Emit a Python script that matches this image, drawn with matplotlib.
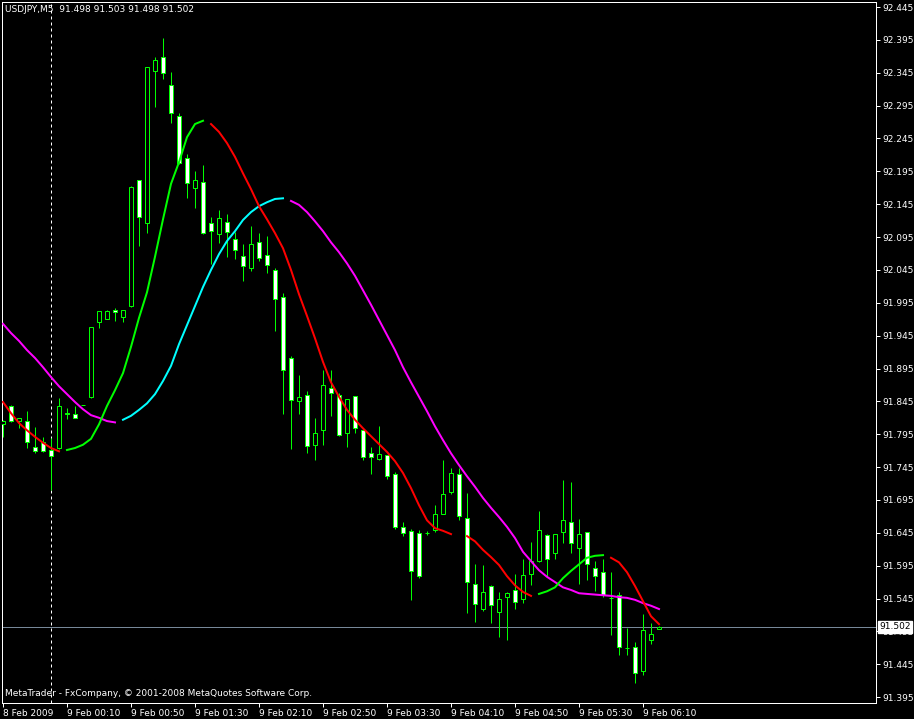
import matplotlib
matplotlib.use("Agg")
import matplotlib.pyplot as plt
import numpy as np

# ---------------- data ----------------
symbol_title = "USDJPY,M5  91.498 91.503 91.498 91.502"
copyright_text = "MetaTrader - FxCompany, \u00a9 2001-2008 MetaQuotes Software Corp."

opens = [91.810, 91.838, 91.815, 91.815, 91.775, 91.783, 91.771, 91.774, 91.827, 91.826,
         91.839, 91.852, 91.966, 91.970, 91.984, 91.973, 91.990, 92.182, 92.116, 92.348,
         92.369, 92.326, 92.279, 92.215, 92.170, 92.179, 92.116, 92.100, 92.118, 92.092,
         92.066, 92.048, 92.087, 92.068, 92.045, 92.004, 91.911, 91.845, 91.855, 91.779,
         91.801, 91.865, 91.855, 91.797, 91.853, 91.801, 91.766, 91.757, 91.763, 91.734,
         91.654, 91.648, 91.645, 91.645, 91.649, 91.674, 91.707, 91.734, 91.667, 91.567,
         91.529, 91.564, 91.524, 91.547, 91.558, 91.544, 91.582, 91.602, 91.642, 91.614,
         91.646, 91.661, 91.622, 91.646, 91.591, 91.585, 91.546, 91.550, 91.470, 91.471,
         91.435, 91.482, 91.498]
highs = [91.817, 91.839, 91.820, 91.830, 91.806, 91.791, 91.789, 91.850, 91.835, 91.838,
         91.840, 91.958, 91.982, 91.984, 91.987, 91.984, 92.173, 92.182, 92.354, 92.369,
         92.398, 92.346, 92.284, 92.221, 92.195, 92.205, 92.125, 92.136, 92.130, 92.103,
         92.084, 92.112, 92.101, 92.097, 92.048, 92.010, 91.914, 91.885, 91.861, 91.820,
         91.893, 91.893, 91.858, 91.849, 91.853, 91.801, 91.775, 91.807, 91.763, 91.737,
         91.661, 91.651, 91.649, 91.648, 91.687, 91.756, 91.744, 91.744, 91.705, 91.597,
         91.596, 91.565, 91.555, 91.555, 91.582, 91.605, 91.631, 91.678, 91.643, 91.643,
         91.725, 91.722, 91.666, 91.646, 91.602, 91.605, 91.585, 91.555, 91.500, 91.479,
         91.521, 91.508, 91.503]
lows = [91.791, 91.813, 91.804, 91.774, 91.766, 91.768, 91.710, 91.772, 91.818, 91.820,
        91.839, 91.850, 91.957, 91.970, 91.967, 91.966, 91.988, 92.081, 92.101, 92.293,
        92.336, 92.269, 92.206, 92.154, 92.139, 92.100, 92.054, 92.086, 92.065, 92.062,
        92.028, 92.043, 92.059, 92.040, 91.952, 91.826, 91.772, 91.826, 91.766, 91.756,
        91.779, 91.823, 91.792, 91.775, 91.797, 91.756, 91.734, 91.756, 91.727, 91.651,
        91.640, 91.543, 91.576, 91.642, 91.646, 91.674, 91.704, 91.664, 91.523, 91.509,
        91.526, 91.508, 91.486, 91.482, 91.529, 91.538, 91.565, 91.600, 91.579, 91.605,
        91.629, 91.614, 91.567, 91.573, 91.556, 91.547, 91.489, 91.459, 91.459, 91.416,
        91.428, 91.476, 91.498]
closes = [91.815, 91.815, 91.820, 91.783, 91.769, 91.769, 91.762, 91.838, 91.826, 91.820,
          91.839, 91.958, 91.982, 91.982, 91.981, 91.984, 92.171, 92.125, 92.354, 92.364,
          92.345, 92.284, 92.208, 92.177, 92.182, 92.101, 92.104, 92.124, 92.103, 92.075,
          92.051, 92.084, 92.063, 92.052, 92.001, 91.893, 91.847, 91.852, 91.777, 91.797,
          91.870, 91.858, 91.794, 91.849, 91.804, 91.760, 91.760, 91.765, 91.731, 91.654,
          91.645, 91.587, 91.579, 91.645, 91.674, 91.704, 91.736, 91.671, 91.570, 91.537,
          91.555, 91.535, 91.544, 91.553, 91.540, 91.581, 91.602, 91.649, 91.605, 91.643,
          91.664, 91.629, 91.643, 91.597, 91.579, 91.550, 91.546, 91.471, 91.470, 91.431,
          91.497, 91.491, 91.502]

fast_ma = [91.844, 91.827, 91.812, 91.801, 91.791, 91.782, 91.774, 91.769, 91.771, 91.774,
           91.779, 91.788, 91.810, 91.838, 91.862, 91.888, 91.928, 91.972, 92.011, 92.065,
           92.122, 92.176, 92.209, 92.247, 92.267, 92.272, 92.267, 92.255, 92.238, 92.217,
           92.192, 92.168, 92.142, 92.122, 92.101, 92.078, 92.045, 92.008, 91.975, 91.941,
           91.905, 91.874, 91.852, 91.832, 91.817, 91.804, 91.792, 91.780, 91.768, 91.754,
           91.736, 91.713, 91.687, 91.664, 91.652, 91.648, 91.643, 91.646, 91.640, 91.632,
           91.619, 91.608, 91.596, 91.579, 91.565, 91.555, 91.549, 91.552, 91.556, 91.562,
           91.576, 91.587, 91.597, 91.607, 91.610, 91.611, 91.607, 91.600, 91.585, 91.564,
           91.541, 91.518, 91.506]
slow_ma = [91.963, 91.949, 91.937, 91.923, 91.911, 91.897, 91.882, 91.868, 91.856, 91.844,
           91.833, 91.824, 91.820, 91.815, 91.813, 91.817, 91.823, 91.832, 91.842, 91.856,
           91.876, 91.899, 91.932, 91.961, 91.990, 92.019, 92.045, 92.069, 92.089, 92.104,
           92.121, 92.133, 92.142, 92.148, 92.153, 92.154, 92.150, 92.144, 92.133, 92.119,
           92.104, 92.087, 92.072, 92.055, 92.036, 92.014, 91.992, 91.969, 91.946, 91.923,
           91.897, 91.874, 91.852, 91.830, 91.807, 91.786, 91.766, 91.748, 91.731, 91.715,
           91.698, 91.683, 91.669, 91.654, 91.637, 91.616, 91.602, 91.588, 91.578, 91.570,
           91.562, 91.558, 91.553, 91.552, 91.551, 91.550, 91.549, 91.547, 91.546, 91.543,
           91.538, 91.534, 91.529]

time_labels = ["8 Feb 2009", "9 Feb 00:10", "9 Feb 00:50", "9 Feb 01:30", "9 Feb 02:10",
               "9 Feb 02:50", "9 Feb 03:30", "9 Feb 04:10", "9 Feb 04:50", "9 Feb 05:30",
               "9 Feb 06:10"]
label_every = 8            # one label every 8 bars (40 minutes)
day_separator_bar = 6      # 9 Feb 00:00
bid_price = 91.502
price_ticks = [round(91.395 + 0.05 * i, 3) for i in range(22)]

# ---------------- style ----------------
W, H = 914, 719
LIME = "#00ff00"
FONT = "DejaVu Sans"
FS = 6.5
PX = 72 / 100.0  # one pixel in points

fig = plt.figure(figsize=(W / 100, H / 100), dpi=100, facecolor="black")
ax = fig.add_axes([2 / W, 16 / H, 874 / W, 701 / H])
ax.set_facecolor("black")
for s in ax.spines.values():
    s.set_color("white")
    s.set_linewidth(PX)

n = len(opens)
idx = np.arange(n)
o = np.array(opens); c = np.array(closes); hi = np.array(highs); lo = np.array(lows)

# wicks
ax.vlines(idx, lo, hi, color=LIME, linewidth=PX, zorder=3)
# bodies
bull = c > o
face = np.where(bull, "black", "white")
bottom = np.minimum(o, c)
height = np.abs(c - o)
ax.bar(idx, height, bottom=bottom, width=0.5, color=face, edgecolor=LIME,
       linewidth=PX, zorder=4)

# colour-changing moving averages
def split_trend(vals):
    v = np.array(vals, dtype=float)
    up = np.zeros(len(v), dtype=bool)
    up[1:] = v[1:] > v[:-1]
    up_line = np.where(up, v, np.nan)
    dn_line = np.where(~up, v, np.nan)
    return up_line, dn_line

f_up, f_dn = split_trend(fast_ma)
s_up, s_dn = split_trend(slow_ma)
ax.plot(idx, s_up, color="#00ffff", linewidth=2 * PX, zorder=5)
ax.plot(idx, s_dn, color="#ff00ff", linewidth=2 * PX, zorder=5)
ax.plot(idx, f_up, color="#00ff00", linewidth=2 * PX, zorder=5)
ax.plot(idx, f_dn, color="#ff0000", linewidth=2 * PX, zorder=5)

# bid line and separator
ax.axhline(bid_price, color="#778899", linewidth=PX, zorder=2)
ax.axvline(day_separator_bar, color="white", linewidth=PX, linestyle=(0, (3, 3)), zorder=2)

ax.set_xlim(-0.125, 109.125)
ax.set_ylim(91.386, 92.4527)

# axes ticks
ax.yaxis.tick_right()
ax.set_yticks(price_ticks)
ax.set_yticklabels([f"{p:.3f}" for p in price_ticks], fontfamily=FONT)
ax.set_xticks([i * label_every for i in range(len(time_labels))])
ax.set_xticklabels(time_labels, ha="left", fontfamily=FONT)
ax.tick_params(axis="both", colors="white", direction="out", length=3, width=PX,
               pad=1.5, labelsize=FS)

# current price tag
ax.annotate(f"{bid_price:.3f}", xy=(1, bid_price), xycoords=("axes fraction", "data"),
            xytext=(2.5, 0), textcoords="offset points", ha="left", va="center",
            color="black", fontsize=FS, fontfamily=FONT, annotation_clip=False,
            bbox=dict(boxstyle="square,pad=0.15", fc="white", ec="white"), zorder=10)

fig.text(5 / W, 1 - 10 / H, symbol_title, color="white", fontsize=FS, fontfamily=FONT,
         va="center", ha="left")
fig.text(5 / W, 1 - 693 / H, copyright_text, color="white", fontsize=FS, fontfamily=FONT,
         va="center", ha="left")

fig.savefig("out.png", dpi=100, facecolor="black")
